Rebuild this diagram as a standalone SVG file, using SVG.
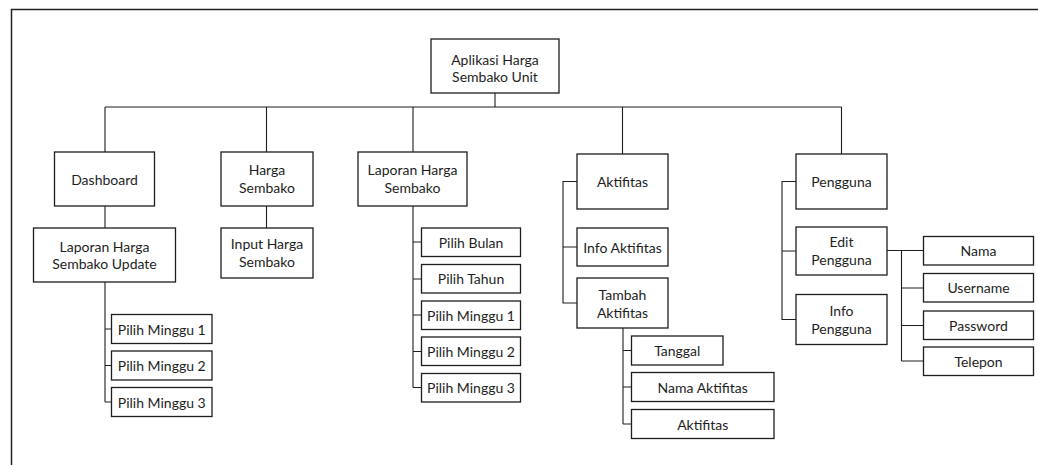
<svg xmlns="http://www.w3.org/2000/svg" width="1038" height="465" viewBox="0 0 1038 465">
  <style>
    .box { fill: #ffffff; stroke: #1e1e1e; stroke-width: 1.3; }
    .lbl { font-family: Lato, "Liberation Sans", sans-serif; font-size: 14px; fill: #1e1e1e; text-anchor: middle; }
    .conn { fill: none; stroke: #1e1e1e; stroke-width: 1.1; }
    .frame { fill: none; stroke: #222222; stroke-width: 1.5; }
  </style>
  <rect x="0" y="0" width="1038" height="465" fill="#ffffff"/>
  <!-- page frame (top and left edges) -->
  <path class="frame" d="M11.5 465 V9.5 H1038"/>

  <!-- connectors -->
  <g id="connectors" class="conn">
    <!-- root to first level -->
    <path d="M495 93 V107 M105 107 H841.5 M105 107 V152 M266.5 107 V152 M413 107 V152 M622.5 107 V154 M841.5 107 V154"/>
    <!-- Dashboard branch -->
    <path d="M105 206 V228 M105 282 V402 M105 329 H111.5 M105 365.5 H111.5 M105 402 H111.5"/>
    <!-- Harga Sembako branch -->
    <path d="M266.5 206 V228"/>
    <!-- Laporan Harga Sembako branch -->
    <path d="M413 206 V387.5 M413 242 H421.5 M413 279 H421.5 M413 315 H421.5 M413 351.5 H421.5 M413 387.5 H421.5"/>
    <!-- Aktifitas branch -->
    <path d="M577 181.5 H563 V303 H577 M563 247 H577"/>
    <path d="M623 328 V424 M623 350.5 H631.5 M623 387 H631.5 M623 424 H631.5"/>
    <!-- Pengguna branch -->
    <path d="M796 181.5 H782 V319.5 H796 M782 251 H796"/>
    <path d="M887 250.5 H923.5 M901.5 250.5 V361 M901.5 288 H923.5 M901.5 325.5 H923.5 M901.5 361 H923.5"/>
  </g>

  <!-- root -->
  <g id="root">
    <rect class="box" x="431" y="39" width="128" height="54"/>
    <text class="lbl" x="495" y="64.5">Aplikasi Harga</text>
    <text class="lbl" x="495" y="82">Sembako Unit</text>
  </g>

  <!-- first level -->
  <g id="dashboard">
    <rect class="box" x="54.5" y="152" width="100" height="54"/>
    <text class="lbl" x="104.5" y="184.5">Dashboard</text>
  </g>
  <g id="harga-sembako">
    <rect class="box" x="221" y="152" width="92" height="54"/>
    <text class="lbl" x="267" y="175">Harga</text>
    <text class="lbl" x="267" y="192.5">Sembako</text>
  </g>
  <g id="laporan-harga-sembako">
    <rect class="box" x="358" y="152" width="109" height="54"/>
    <text class="lbl" x="412.5" y="175">Laporan Harga</text>
    <text class="lbl" x="412.5" y="192.5">Sembako</text>
  </g>
  <g id="aktifitas">
    <rect class="box" x="577" y="154" width="91" height="55"/>
    <text class="lbl" x="622.5" y="187">Aktifitas</text>
  </g>
  <g id="pengguna">
    <rect class="box" x="796" y="154" width="91" height="55"/>
    <text class="lbl" x="841.5" y="187">Pengguna</text>
  </g>

  <!-- Dashboard children -->
  <g id="laporan-update">
    <rect class="box" x="33.5" y="228" width="142" height="54"/>
    <text class="lbl" x="104.5" y="251.5">Laporan Harga</text>
    <text class="lbl" x="104.5" y="269">Sembako Update</text>
  </g>
  <g id="dash-minggu-1">
    <rect class="box" x="111.5" y="314.5" width="100.5" height="29"/>
    <text class="lbl" x="161.75" y="334.5">Pilih Minggu 1</text>
  </g>
  <g id="dash-minggu-2">
    <rect class="box" x="111.5" y="351" width="100.5" height="29"/>
    <text class="lbl" x="161.75" y="371">Pilih Minggu 2</text>
  </g>
  <g id="dash-minggu-3">
    <rect class="box" x="111.5" y="387.5" width="100.5" height="29"/>
    <text class="lbl" x="161.75" y="407.5">Pilih Minggu 3</text>
  </g>

  <!-- Harga Sembako child -->
  <g id="input-harga">
    <rect class="box" x="221" y="228" width="92" height="50"/>
    <text class="lbl" x="267" y="249">Input Harga</text>
    <text class="lbl" x="267" y="266.5">Sembako</text>
  </g>

  <!-- Laporan Harga Sembako children -->
  <g id="pilih-bulan">
    <rect class="box" x="421.5" y="228" width="99" height="28.5"/>
    <text class="lbl" x="471" y="247.5">Pilih Bulan</text>
  </g>
  <g id="pilih-tahun">
    <rect class="box" x="421.5" y="264.5" width="99" height="28.5"/>
    <text class="lbl" x="471" y="284">Pilih Tahun</text>
  </g>
  <g id="lap-minggu-1">
    <rect class="box" x="421.5" y="301" width="99" height="28.5"/>
    <text class="lbl" x="471" y="320.5">Pilih Minggu 1</text>
  </g>
  <g id="lap-minggu-2">
    <rect class="box" x="421.5" y="337" width="99" height="28.5"/>
    <text class="lbl" x="471" y="356.5">Pilih Minggu 2</text>
  </g>
  <g id="lap-minggu-3">
    <rect class="box" x="421.5" y="373.5" width="99" height="28.5"/>
    <text class="lbl" x="471" y="393">Pilih Minggu 3</text>
  </g>

  <!-- Aktifitas children -->
  <g id="info-aktifitas">
    <rect class="box" x="577" y="228" width="91" height="38"/>
    <text class="lbl" x="622.5" y="252.5">Info Aktifitas</text>
  </g>
  <g id="tambah-aktifitas">
    <rect class="box" x="577" y="278" width="91" height="50"/>
    <text class="lbl" x="622.5" y="300">Tambah</text>
    <text class="lbl" x="622.5" y="317.5">Aktifitas</text>
  </g>
  <g id="tanggal">
    <rect class="box" x="631.5" y="336" width="91.5" height="29"/>
    <text class="lbl" x="677.25" y="356">Tanggal</text>
  </g>
  <g id="nama-aktifitas">
    <rect class="box" x="631.5" y="372.5" width="142.5" height="29"/>
    <text class="lbl" x="702.75" y="392.5">Nama Aktifitas</text>
  </g>
  <g id="aktifitas-field">
    <rect class="box" x="631.5" y="409.5" width="142.5" height="29"/>
    <text class="lbl" x="702.75" y="429.5">Aktifitas</text>
  </g>

  <!-- Pengguna children -->
  <g id="edit-pengguna">
    <rect class="box" x="796" y="227" width="91" height="48"/>
    <text class="lbl" x="841.5" y="247">Edit</text>
    <text class="lbl" x="841.5" y="264.5">Pengguna</text>
  </g>
  <g id="info-pengguna">
    <rect class="box" x="796" y="294.5" width="91" height="50"/>
    <text class="lbl" x="841.5" y="316">Info</text>
    <text class="lbl" x="841.5" y="333.5">Pengguna</text>
  </g>
  <g id="nama">
    <rect class="box" x="923.5" y="236.5" width="110" height="28.5"/>
    <text class="lbl" x="978.5" y="256">Nama</text>
  </g>
  <g id="username">
    <rect class="box" x="923.5" y="273.5" width="110" height="28.5"/>
    <text class="lbl" x="978.5" y="293">Username</text>
  </g>
  <g id="password">
    <rect class="box" x="923.5" y="311" width="110" height="28.5"/>
    <text class="lbl" x="978.5" y="330.5">Password</text>
  </g>
  <g id="telepon">
    <rect class="box" x="923.5" y="347" width="110" height="28.5"/>
    <text class="lbl" x="978.5" y="366.5">Telepon</text>
  </g>
</svg>
